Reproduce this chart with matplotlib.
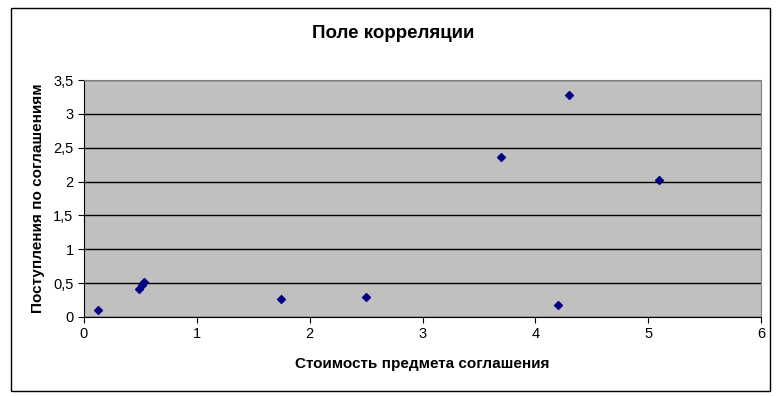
import matplotlib
matplotlib.use("Agg")
from matplotlib import pyplot as plt
from matplotlib.patches import Rectangle

# values
cost = [0.12, 0.49, 0.51, 0.53, 1.75, 2.5, 3.7, 4.2, 4.3, 5.1]
income = [0.1, 0.42, 0.47, 0.51, 0.26, 0.3, 2.36, 0.18, 3.28, 2.02]
x_ticks = [0, 1, 2, 3, 4, 5, 6]
y_ticks = [0, 0.5, 1, 1.5, 2, 2.5, 3, 3.5]

plt.rcParams['font.family'] = ['Liberation Sans', 'DejaVu Sans']

fig = plt.figure(figsize=(7.78, 3.96), dpi=100)
fig.patches.append(Rectangle((11 / 778, 1 - 391 / 396), 759 / 778, 383 / 396,
                             transform=fig.transFigure, fill=False,
                             edgecolor='black', linewidth=1))

ax = fig.add_axes([84 / 778, 1 - 317 / 396, 677 / 778, 237 / 396])
ax.set_facecolor('#c0c0c0')
ax.scatter(cost, income, marker='D', s=16, color='#000080', zorder=3)

ax.set_xlim(0, 6)
ax.set_ylim(0, 3.5)
ax.set_xticks(x_ticks)
ax.set_yticks(y_ticks)
ax.set_yticklabels([f'{v:g}'.replace('.', ',') for v in y_ticks])
ax.yaxis.grid(True, color='black', linewidth=1)
ax.set_axisbelow(True)
ax.tick_params(direction='out', length=4, labelsize=10.5, colors='black')
for side in ['top', 'right']:
    ax.spines[side].set_color('#808080')
for side in ['left', 'bottom']:
    ax.spines[side].set_color('black')

ax.set_xlabel('Стоимость предмета соглашения', fontsize=11, fontweight='bold', labelpad=11)
ax.set_ylabel('Поступления по соглашениям', fontsize=11, fontweight='bold', labelpad=6)
fig.text(393 / 778, 1 - 33 / 396, 'Поле корреляции', fontsize=13.5, fontweight='bold',
         ha='center', va='center')

plt.savefig('out.png')
